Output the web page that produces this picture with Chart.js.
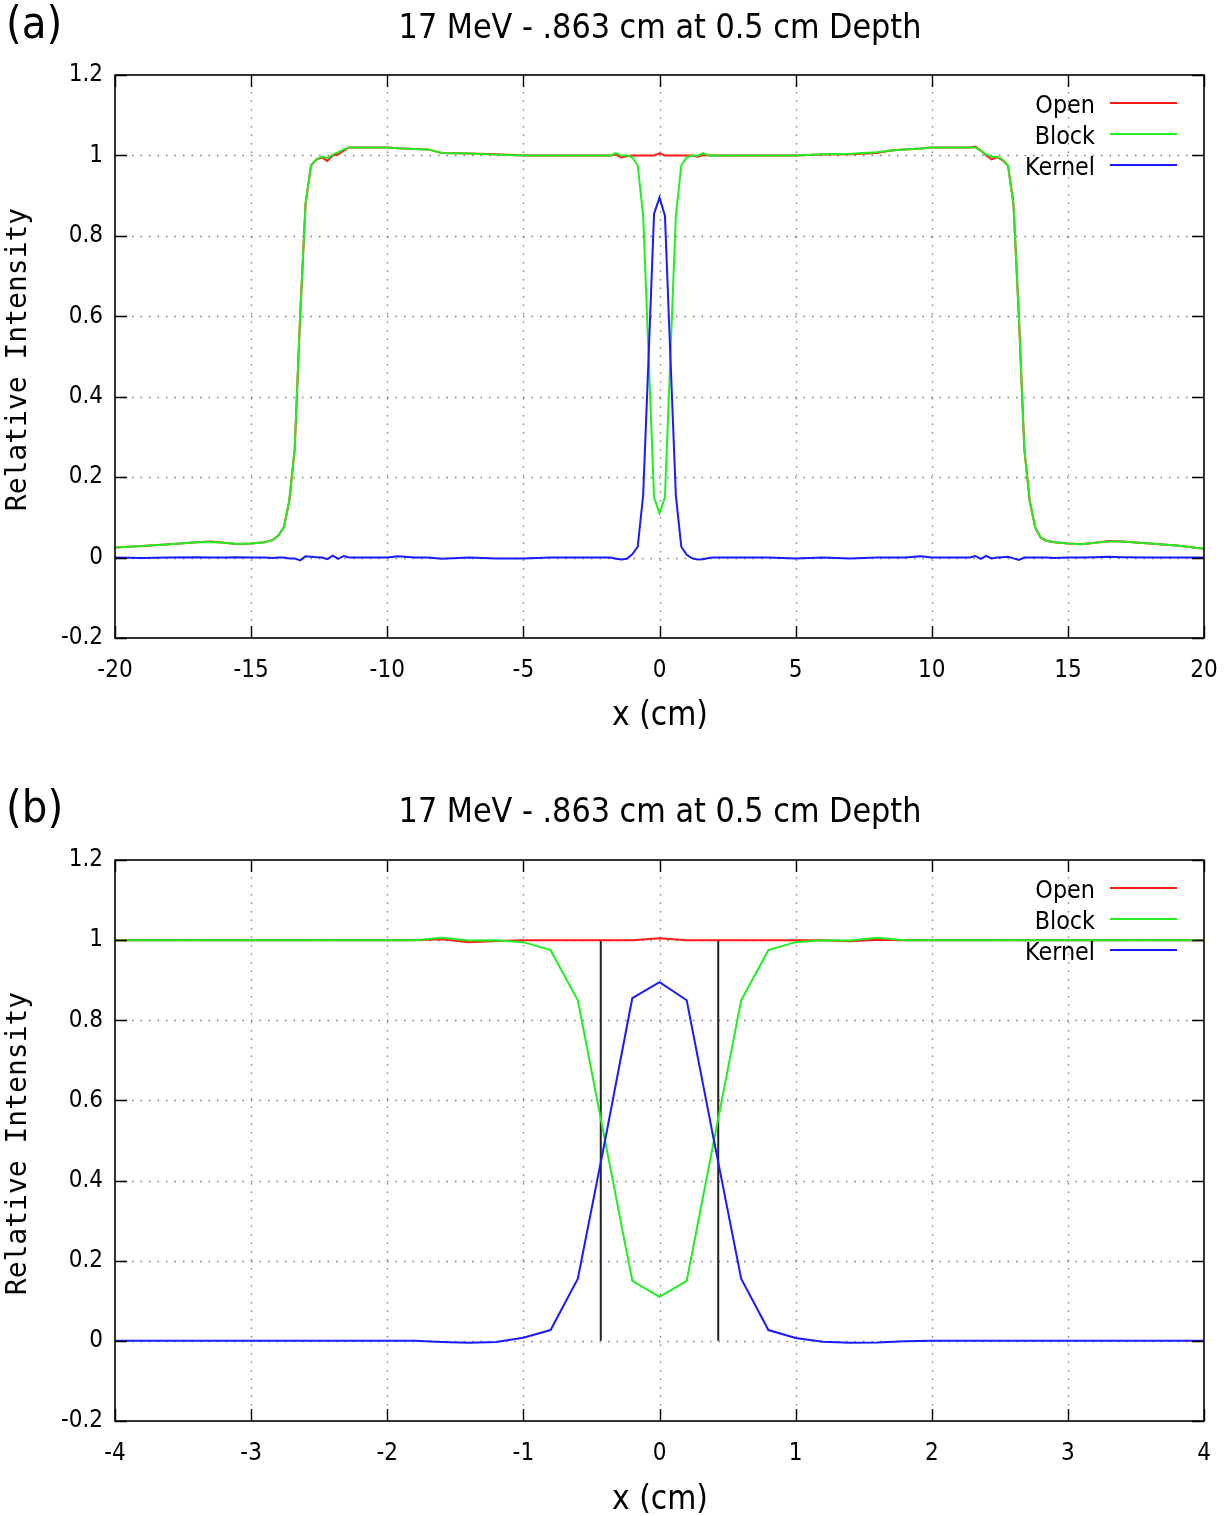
<!DOCTYPE html>
<html><head><meta charset="utf-8">
<script src="https://cdn.jsdelivr.net/npm/chart.js@4.4.0/dist/chart.umd.min.js"></script>
<style>
html,body{margin:0;padding:0;background:#fff;}
#wrap{position:relative;width:1231px;height:1516px;overflow:hidden;}
canvas{position:absolute;left:0;}
</style>
</head><body>
<div id="wrap">
<canvas id="ca" width="1231" height="784" style="top:0px"></canvas>
<canvas id="cb" width="1231" height="732" style="top:784px"></canvas>
</div>
<script>
// ---------------- DATA ----------------
const chartTitle = "17 MeV - .863 cm at 0.5 cm Depth";
const seriesNames = ["Open", "Block", "Kernel"];
const xPositions = [
  -20, -19, -18, -17, -16.5, -16, -15.5, -15, -14.5, -14.2, -14.0, -13.8, -13.6, -13.4, -13.2, -13.0,
  -12.8, -12.6, -12.4, -12.2, -12.0, -11.8, -11.6, -11.4, -11, -10, -9.6, -9, -8.5, -8, -7, -6, -5,
  -4, -3, -2, -1.8, -1.6, -1.4, -1.2, -1.0, -0.8, -0.6, -0.4, -0.2, 0,
  0.2, 0.4, 0.6, 0.8, 1.0, 1.2, 1.4, 1.6, 1.8, 2, 3, 4,
  5, 6, 7, 8, 8.5, 9, 9.6, 10, 11, 11.4, 11.6, 11.8, 12.0, 12.2, 12.4, 12.6, 12.8,
  13.0, 13.2, 13.4, 13.6, 13.8, 14.0, 14.2, 14.5, 15, 15.5, 16, 16.5, 17, 18, 19, 20
];
const openValues = [
  0.025, 0.029, 0.033, 0.038, 0.040, 0.037, 0.034, 0.035, 0.038, 0.044, 0.055, 0.075, 0.14, 0.27, 0.60, 0.88,
  0.975, 0.99, 0.995, 0.986, 1.0, 1.003, 1.012, 1.02, 1.02, 1.02, 1.018, 1.016, 1.015, 1.006, 1.005, 1.003, 1.0,
  1.0, 1.0, 1.0, 1.0, 1.002, 0.995, 0.998, 1.0, 1.0, 1.0, 1.0, 1.0, 1.005,
  1.0, 1.0, 1.0, 1.0, 1.0, 1.0, 0.997, 1.001, 1.0, 1.0, 1.0, 1.0,
  1.0, 1.002, 1.003, 1.006, 1.012, 1.015, 1.017, 1.02, 1.02, 1.02, 1.022, 1.012, 1.0, 0.99, 0.996, 0.988, 0.975,
  0.88, 0.60, 0.27, 0.14, 0.075, 0.05, 0.042, 0.038, 0.035, 0.033, 0.037, 0.041, 0.040, 0.035, 0.030, 0.022
];
const blockValues = [
  0.025, 0.029, 0.033, 0.038, 0.039, 0.037, 0.034, 0.035, 0.038, 0.044, 0.055, 0.075, 0.14, 0.27, 0.60, 0.88,
  0.975, 0.99, 0.997, 0.993, 1.002, 1.008, 1.015, 1.02, 1.02, 1.02, 1.018, 1.016, 1.015, 1.006, 1.005, 1.002, 1.0,
  1.0, 1.0, 1.0, 1.0, 1.006, 0.999, 1.0, 0.995, 0.975, 0.85, 0.5, 0.15, 0.11,
  0.15, 0.5, 0.85, 0.975, 0.995, 1.0, 0.999, 1.006, 1.0, 1.0, 1.0, 1.0,
  1.0, 1.003, 1.004, 1.008, 1.012, 1.015, 1.017, 1.02, 1.02, 1.02, 1.02, 1.012, 1.002, 0.997, 0.997, 0.99, 0.975,
  0.88, 0.60, 0.27, 0.14, 0.075, 0.05, 0.042, 0.038, 0.035, 0.033, 0.037, 0.040, 0.040, 0.035, 0.030, 0.022
];
const kernelValues = [
  0, -0.001, 0, 0.001, 0, 0, 0.001, 0, 0, -0.001, 0, 0, -0.002, -0.002, -0.007, 0.003,
  0.002, 0.001, 0, -0.004, 0.005, -0.003, 0.004, 0, 0, 0, 0.003, 0, 0, -0.003, 0, -0.002, -0.002,
  0, 0, 0, 0, -0.003, -0.005, -0.003, 0.008, 0.027, 0.155, 0.5, 0.855, 0.895,
  0.85, 0.5, 0.155, 0.027, 0.007, -0.002, -0.005, -0.004, -0.001, 0, 0, 0,
  -0.002, 0, -0.002, 0, 0, 0, 0.003, 0, 0, 0, 0.004, -0.003, 0.004, -0.002, 0, 0.001, 0.002,
  -0.002, -0.006, 0, 0, 0, 0, 0, -0.001, 0, 0, 0.001, 0.002, 0.001, 0, 0, 0
];
const blockEdges = [-0.4315, 0.4315];   // block half-width markers (panel b)
const edgeLineY = [0, 1];
const yTicks = { min: -0.2, max: 1.2, step: 0.2 };
const xTicksA = { min: -20, max: 20, step: 5 };
const xTicksB = { min: -4, max: 4, step: 1 };

// ---------------- STYLE ----------------
const SANS = "'DejaVu Sans Condensed', 'Liberation Sans', sans-serif";
const colors = { Open: "#ff1a1a", Block: "#22ee22", Kernel: "#1a1aff" };

function toPoints(vals) { return xPositions.map((x, i) => ({ x: x, y: vals[i] })); }

function fitFont(ctx, text, family, base, target) {
  ctx.font = base + "px " + family;
  const w = ctx.measureText(text).width;
  const size = base * target / w;
  ctx.font = size.toFixed(2) + "px " + family;
}

function fmtTick(v) {
  const r = Math.round(v * 10) / 10;
  return (Math.abs(r) < 1e-9 ? 0 : r).toString();
}

function makePlugin(panelLabel) {
  return {
    id: 'gp',
    beforeDatasetsDraw(chart) {
      const ctx = chart.ctx, a = chart.chartArea;
      ctx.save();
      ctx.strokeStyle = '#7a7a7a';
      ctx.lineWidth = 1.3;
      ctx.setLineDash([1.5, 7]);
      chart.scales.x.ticks.forEach(t => {
        const px = Math.round(chart.scales.x.getPixelForValue(t.value)) + 0.5;
        if (px <= a.left + 1 || px >= a.right - 1) return;
        ctx.beginPath(); ctx.moveTo(px, a.top); ctx.lineTo(px, a.bottom); ctx.stroke();
      });
      chart.scales.y.ticks.forEach(t => {
        const py = Math.round(chart.scales.y.getPixelForValue(t.value)) + 0.5;
        if (py <= a.top + 1 || py >= a.bottom - 1) return;
        ctx.beginPath(); ctx.moveTo(a.left, py); ctx.lineTo(a.right, py); ctx.stroke();
      });
      ctx.restore();
    },
    afterDraw(chart) {
      const ctx = chart.ctx, a = chart.chartArea;
      ctx.save();
      // border
      ctx.strokeStyle = '#000';
      ctx.lineWidth = 1.6;
      ctx.setLineDash([]);
      ctx.strokeRect(a.left, a.top, a.right - a.left, a.bottom - a.top);
      // inward ticks on all sides
      const TL = 12;
      ctx.lineWidth = 1.4;
      chart.scales.x.ticks.forEach(t => {
        const px = Math.round(chart.scales.x.getPixelForValue(t.value)) + 0.5;
        ctx.beginPath();
        ctx.moveTo(px, a.bottom); ctx.lineTo(px, a.bottom - TL);
        ctx.moveTo(px, a.top); ctx.lineTo(px, a.top + TL);
        ctx.stroke();
      });
      chart.scales.y.ticks.forEach(t => {
        const py = Math.round(chart.scales.y.getPixelForValue(t.value)) + 0.5;
        ctx.beginPath();
        ctx.moveTo(a.left, py); ctx.lineTo(a.left + TL, py);
        ctx.moveTo(a.right, py); ctx.lineTo(a.right - TL, py);
        ctx.stroke();
      });
      // panel label
      ctx.fillStyle = '#000';
      ctx.textBaseline = 'middle';
      ctx.textAlign = 'left';
      ctx.font = "45px " + SANS;
      ctx.fillText(panelLabel, 6, 26);
      // title
      ctx.textAlign = 'center';
      fitFont(ctx, chartTitle, SANS, 28, 523);
      ctx.fillText(chartTitle, 660, 29);
      // x title
      fitFont(ctx, "x (cm)", SANS, 30, 96);
      ctx.fillText("x (cm)", 660, 716);
      // y title
      ctx.save();
      ctx.translate(19, (a.top + a.bottom) / 2 + 3);
      ctx.rotate(-Math.PI / 2);
      ctx.font = "28px 'DejaVu Sans Mono', monospace";
      ctx.fillText("Relative Intensity", 0, 0);
      ctx.restore();
      // legend
      ctx.textAlign = 'right';
      fitFont(ctx, "Kernel", SANS, 24, 70);
      seriesNames.forEach((n, i) => {
        const y = a.top + 28 + i * 31;
        ctx.fillStyle = '#000';
        ctx.fillText(n, 1095, y + 4);
        ctx.strokeStyle = colors[n];
        ctx.lineWidth = 2;
        ctx.beginPath(); ctx.moveTo(1110, y); ctx.lineTo(1177, y); ctx.stroke();
      });
      ctx.restore();
    }
  };
}

function makeChart(id, label, xr, axisH, topPad, withEdges) {
  const datasets = [
    { label: 'Open', data: toPoints(openValues), borderColor: colors.Open, order: 2 },
    { label: 'Block', data: toPoints(blockValues), borderColor: colors.Block, order: 1 },
    { label: 'Kernel', data: toPoints(kernelValues), borderColor: colors.Kernel, order: 0 }
  ];
  if (withEdges) {
    blockEdges.forEach(xe => {
      datasets.push({ label: 'edge', data: edgeLineY.map(y => ({ x: xe, y: y })), borderColor: '#222', order: 3 });
    });
  }
  datasets.forEach(d => {
    d.showLine = true; d.pointRadius = 0; d.borderWidth = 2; d.fill = false; d.tension = 0;
  });
  return new Chart(document.getElementById(id), {
    type: 'scatter',
    data: { datasets },
    options: {
      responsive: false,
      animation: false,
      devicePixelRatio: 1,
      events: [],
      layout: { padding: { top: topPad, right: 27, left: 0, bottom: 0 } },
      plugins: { legend: { display: false }, tooltip: { enabled: false } },
      scales: {
        x: {
          type: 'linear', min: xr.min, max: xr.max,
          ticks: { stepSize: xr.step, font: { family: SANS, size: 24 }, color: '#000', padding: 18, maxRotation: 0, autoSkip: false, callback: v => fmtTick(v) },
          grid: { display: false, drawTicks: false }, border: { display: false },
          afterFit(s) { s.height = axisH; s.paddingLeft = 0; s.paddingRight = 0; }
        },
        y: {
          type: 'linear', min: yTicks.min, max: yTicks.max,
          ticks: { stepSize: yTicks.step, font: { family: SANS, size: 24 }, color: '#000', padding: 12, callback: v => fmtTick(v) },
          grid: { display: false, drawTicks: false }, border: { display: false },
          afterFit(s) { s.width = 115; s.paddingTop = 0; s.paddingBottom = 0; }
        }
      }
    },
    plugins: [makePlugin(label)]
  });
}

makeChart('ca', '(a)', xTicksA, 146, 75, false);
makeChart('cb', '(b)', xTicksB, 95, 76, true);
</script>
</body></html>
